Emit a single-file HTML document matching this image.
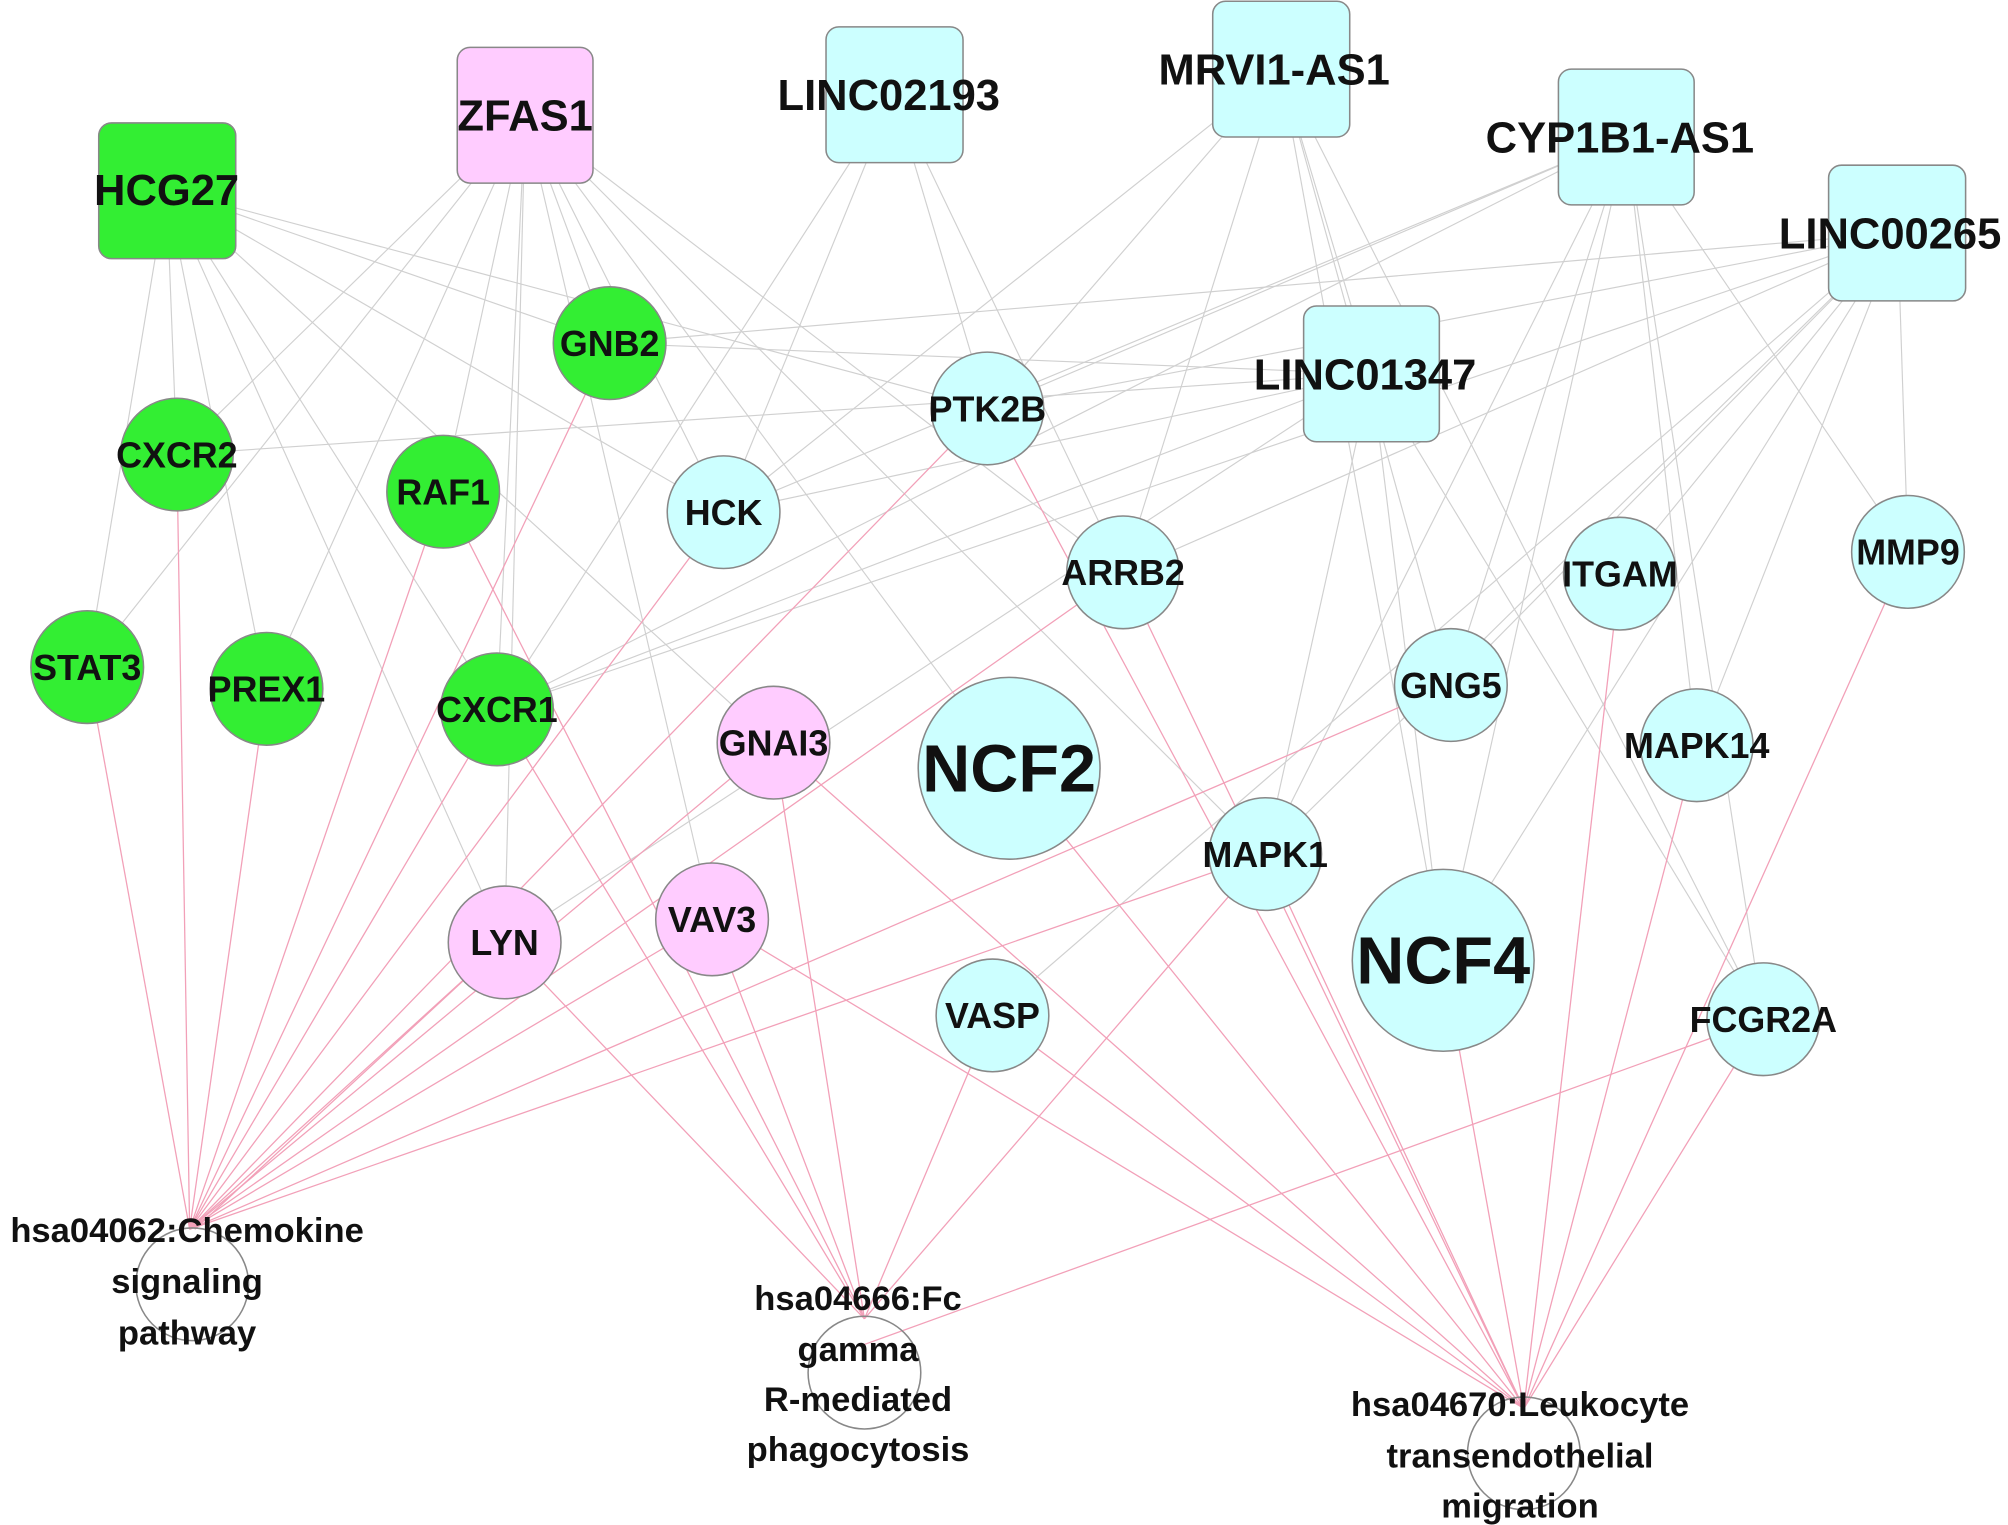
<!DOCTYPE html>
<html><head><meta charset="utf-8"><style>html,body{margin:0;padding:0;background:#fff}svg{display:block}</style></head>
<body>
<svg width="2008" height="1525" viewBox="0 0 1568 1191" xmlns="http://www.w3.org/2000/svg" font-family="Liberation Sans, Arial, sans-serif" font-weight="bold">
<g stroke="#d0d0d0" stroke-width="0.9">
<line x1="130" y1="148" x2="138" y2="355"/><line x1="130" y1="148" x2="68" y2="521"/><line x1="130" y1="148" x2="208" y2="538"/>
<line x1="130" y1="148" x2="565" y2="400"/><line x1="130" y1="148" x2="476" y2="268"/><line x1="130" y1="148" x2="388" y2="554"/>
<line x1="130" y1="148" x2="394" y2="736"/><line x1="130" y1="148" x2="771" y2="319"/><line x1="130" y1="148" x2="604" y2="580"/>
<line x1="410" y1="90" x2="138" y2="355"/><line x1="410" y1="90" x2="68" y2="521"/><line x1="410" y1="90" x2="208" y2="538"/>
<line x1="410" y1="90" x2="346" y2="384"/><line x1="410" y1="90" x2="476" y2="268"/><line x1="410" y1="90" x2="388" y2="554"/>
<line x1="410" y1="90" x2="556" y2="718"/><line x1="410" y1="90" x2="394" y2="736"/><line x1="410" y1="90" x2="788" y2="600"/>
<line x1="410" y1="90" x2="877" y2="447"/><line x1="410" y1="90" x2="988" y2="667"/><line x1="410" y1="90" x2="565" y2="400"/>
<line x1="698" y1="74" x2="565" y2="400"/><line x1="698" y1="74" x2="771" y2="319"/><line x1="698" y1="74" x2="877" y2="447"/>
<line x1="698" y1="74" x2="388" y2="554"/>
<line x1="1000" y1="54" x2="565" y2="400"/><line x1="1000" y1="54" x2="877" y2="447"/><line x1="1000" y1="54" x2="1071" y2="292"/>
<line x1="1000" y1="54" x2="1133" y2="535"/><line x1="1000" y1="54" x2="1377" y2="796"/><line x1="1000" y1="54" x2="771" y2="319"/>
<line x1="1000" y1="54" x2="1127" y2="750"/>
<line x1="1270" y1="107" x2="388" y2="554"/><line x1="1270" y1="107" x2="565" y2="400"/><line x1="1270" y1="107" x2="1133" y2="535"/>
<line x1="1270" y1="107" x2="1325" y2="582"/><line x1="1270" y1="107" x2="1377" y2="796"/><line x1="1270" y1="107" x2="988" y2="667"/>
<line x1="1270" y1="107" x2="1490" y2="431"/><line x1="1270" y1="107" x2="1127" y2="750"/><line x1="1270" y1="107" x2="771" y2="319"/>
<line x1="1482" y1="182" x2="476" y2="268"/><line x1="1482" y1="182" x2="388" y2="554"/><line x1="1482" y1="182" x2="771" y2="319"/>
<line x1="1482" y1="182" x2="1133" y2="535"/><line x1="1482" y1="182" x2="1265" y2="448"/><line x1="1482" y1="182" x2="1490" y2="431"/>
<line x1="1482" y1="182" x2="988" y2="667"/><line x1="1482" y1="182" x2="775" y2="793"/><line x1="1482" y1="182" x2="1325" y2="582"/>
<line x1="1482" y1="182" x2="1127" y2="750"/><line x1="1482" y1="182" x2="877" y2="447"/>
<line x1="1071" y1="292" x2="138" y2="355"/><line x1="1071" y1="292" x2="565" y2="400"/><line x1="1071" y1="292" x2="388" y2="554"/>
<line x1="1071" y1="292" x2="1127" y2="750"/><line x1="1071" y1="292" x2="988" y2="667"/><line x1="1071" y1="292" x2="476" y2="268"/>
<line x1="1071" y1="292" x2="1377" y2="796"/><line x1="1071" y1="292" x2="394" y2="736"/>
</g>
<g stroke="#f2a0b8" stroke-width="1">
<line x1="148" y1="960" x2="68" y2="521"/><line x1="148" y1="960" x2="138" y2="355"/><line x1="148" y1="960" x2="208" y2="538"/>
<line x1="148" y1="960" x2="346" y2="384"/><line x1="148" y1="960" x2="476" y2="268"/><line x1="148" y1="960" x2="565" y2="400"/>
<line x1="148" y1="960" x2="771" y2="319"/><line x1="148" y1="960" x2="394" y2="736"/><line x1="152" y1="960" x2="394" y2="736"/>
<line x1="148" y1="960" x2="556" y2="718"/><line x1="148" y1="960" x2="604" y2="580"/><line x1="148" y1="960" x2="877" y2="447"/>
<line x1="148" y1="960" x2="1133" y2="535"/><line x1="148" y1="960" x2="988" y2="667"/><line x1="148" y1="960" x2="388" y2="554"/>
<line x1="675" y1="1030" x2="346" y2="384"/><line x1="675" y1="1030" x2="394" y2="736"/><line x1="675" y1="1030" x2="556" y2="718"/>
<line x1="675" y1="1030" x2="604" y2="580"/><line x1="675" y1="1030" x2="775" y2="793"/><line x1="675" y1="1030" x2="988" y2="667"/>
<line x1="675" y1="1050" x2="1377" y2="796"/><line x1="675" y1="1030" x2="388" y2="554"/>
<line x1="1190" y1="1100" x2="604" y2="580"/><line x1="1190" y1="1100" x2="556" y2="718"/><line x1="1190" y1="1100" x2="788" y2="600"/>
<line x1="1190" y1="1100" x2="1127" y2="750"/><line x1="1190" y1="1100" x2="988" y2="667"/><line x1="1190" y1="1100" x2="1265" y2="448"/>
<line x1="1190" y1="1100" x2="1325" y2="582"/><line x1="1190" y1="1100" x2="1490" y2="431"/><line x1="1190" y1="1100" x2="1377" y2="796"/>
<line x1="1190" y1="1100" x2="877" y2="447"/><line x1="1190" y1="1100" x2="771" y2="319"/><line x1="1190" y1="1100" x2="775" y2="793"/>
</g>
<g stroke="#888" stroke-width="1.2">
<rect x="77" y="96" width="107" height="106" rx="10" fill="#33ee33"/>
<rect x="357" y="37" width="106" height="106" rx="10" fill="#ffccff"/>
<rect x="645" y="21" width="107" height="106" rx="10" fill="#ccffff"/>
<rect x="947" y="1" width="107" height="106" rx="10" fill="#ccffff"/>
<rect x="1217" y="54" width="106" height="106" rx="10" fill="#ccffff"/>
<rect x="1428" y="129" width="107" height="106" rx="10" fill="#ccffff"/>
<rect x="1018" y="239" width="106" height="106" rx="10" fill="#ccffff"/>
<g fill="#33ee33">
<circle cx="476" cy="268" r="44"/><circle cx="138" cy="355" r="44"/><circle cx="346" cy="384" r="44"/>
<circle cx="68" cy="521" r="44"/><circle cx="208" cy="538" r="44"/><circle cx="388" cy="554" r="44"/>
</g>
<g fill="#ffccff">
<circle cx="604" cy="580" r="44"/><circle cx="394" cy="736" r="44"/><circle cx="556" cy="718" r="44"/>
</g>
<g fill="#ccffff">
<circle cx="771" cy="319" r="44"/><circle cx="565" cy="400" r="44"/><circle cx="877" cy="447" r="44"/>
<circle cx="1265" cy="448" r="44"/><circle cx="1490" cy="431" r="44"/><circle cx="1133" cy="535" r="44"/>
<circle cx="788" cy="600" r="71"/><circle cx="1325" cy="582" r="44"/><circle cx="988" cy="667" r="44"/>
<circle cx="1127" cy="750" r="71"/><circle cx="775" cy="793" r="44"/><circle cx="1377" cy="796" r="44"/>
</g>
<g fill="none">
<circle cx="150" cy="1003" r="44"/><circle cx="675" cy="1072" r="44"/><circle cx="1190" cy="1135" r="44"/>
</g>
</g>
<g fill="#111" text-anchor="middle" font-size="34">
<text x="130" y="160">HCG27</text><text x="410" y="102">ZFAS1</text><text x="694" y="86">LINC02193</text>
<text x="995" y="66">MRVI1-AS1</text><text x="1265" y="119">CYP1B1-AS1</text><text x="1476" y="194">LINC00265</text>
<text x="1066" y="304">LINC01347</text>
</g>
<g fill="#111" text-anchor="middle" font-size="28">
<text x="476" y="278">GNB2</text><text x="138" y="365">CXCR2</text><text x="346" y="394">RAF1</text>
<text x="68" y="531">STAT3</text><text x="208" y="548">PREX1</text><text x="388" y="564">CXCR1</text>
<text x="604" y="590">GNAI3</text><text x="394" y="746">LYN</text><text x="556" y="728">VAV3</text>
<text x="771" y="329">PTK2B</text><text x="565" y="410">HCK</text><text x="877" y="457">ARRB2</text>
<text x="1265" y="458">ITGAM</text><text x="1490" y="441">MMP9</text><text x="1133" y="545">GNG5</text>
<text x="1325" y="592">MAPK14</text><text x="988" y="677">MAPK1</text><text x="775" y="803">VASP</text>
<text x="1377" y="806">FCGR2A</text>
<text x="788" y="618" font-size="52">NCF2</text><text x="1127" y="768" font-size="52">NCF4</text>
</g>
<g fill="#111" text-anchor="middle" font-size="27">
<text x="146" y="970">hsa04062:Chemokine</text><text x="146" y="1010">signaling</text><text x="146" y="1050">pathway</text>
<text x="670" y="1023">hsa04666:Fc</text><text x="670" y="1063">gamma</text><text x="670" y="1102">R-mediated</text><text x="670" y="1141">phagocytosis</text>
<text x="1187" y="1106">hsa04670:Leukocyte</text><text x="1187" y="1146">transendothelial</text><text x="1187" y="1185">migration</text>
</g>
</svg>
</body></html>
